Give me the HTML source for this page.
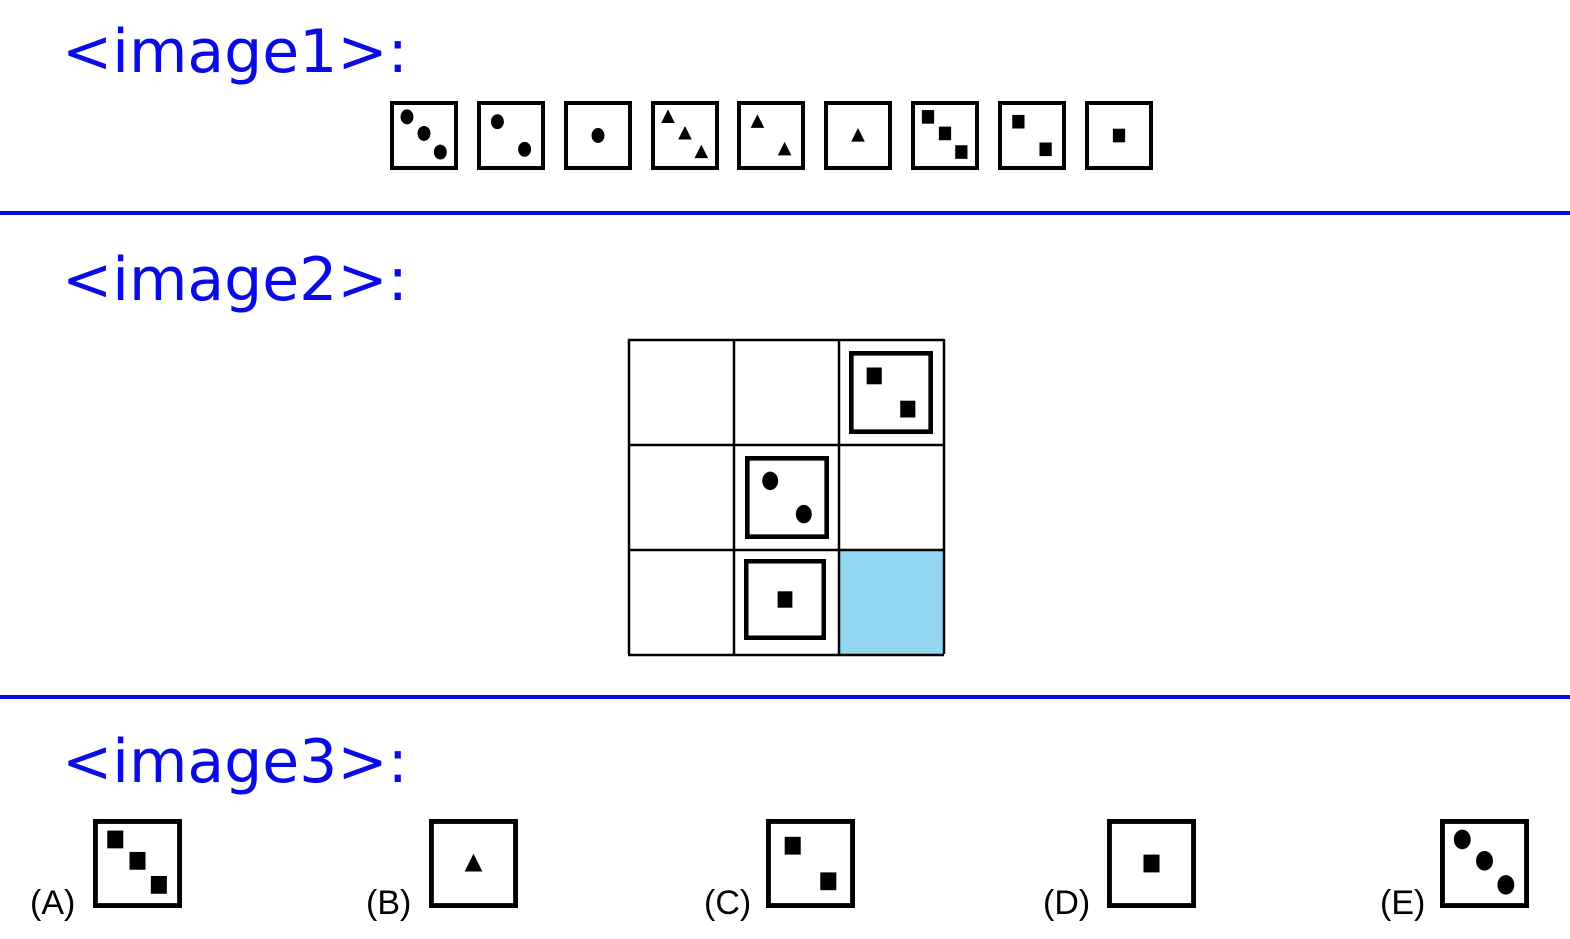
<!DOCTYPE html>
<html><head><meta charset="utf-8"><style>
html,body{margin:0;padding:0;background:#fff;}
svg{display:block}
.h{font-family:"DejaVu Sans","Liberation Sans",sans-serif;font-size:60px;fill:#0a0ae6}
.l{font-family:"Liberation Sans",sans-serif;font-size:34px;fill:#000}
</style></head><body>
<svg id="s" width="1570" height="939" viewBox="0 0 1570 939" xmlns="http://www.w3.org/2000/svg">
<text class="h" x="62" y="72">&lt;image1&gt;:</text>
<rect x="0" y="211" width="1570" height="4" fill="#0a0ae6"/>
<text class="h" x="62" y="300">&lt;image2&gt;:</text>
<rect x="0" y="695" width="1570" height="4" fill="#0a0ae6"/>
<text class="h" x="62" y="782">&lt;image3&gt;:</text>
<g id="grid">
<rect x="839" y="549" width="105" height="105" fill="#93d6f2"/>
</g>
<g id="dice"></g>
<text class="l" x="30" y="914">(A)</text>
<text class="l" x="366" y="914">(B)</text>
<text class="l" x="704" y="914">(C)</text>
<text class="l" x="1043" y="914">(D)</text>
<text class="l" x="1380" y="914">(E)</text>
</svg>
<script>
const NS="http://www.w3.org/2000/svg";
const g=document.getElementById('dice'),grid=document.getElementById('grid');
function mk(p,t,a){const e=document.createElementNS(NS,t);for(const k in a)e.setAttribute(k,a[k]);p.appendChild(e);return e;}
const pos={1:[[.5,.5]],2:[[.3,.3],[.7,.7]],3:[[.25,.23],[.5,.47],[.74,.74]]};
function die(x,y,w,h,shape,n,name){
  const gg=mk(g,'g',{});
  
  
  const sw=Math.max(4,w*0.055);
  mk(gg,'rect',{x:x+sw/2,y:y+sw/2,width:w-sw,height:h-sw,fill:'#fff',stroke:'#000','stroke-width':sw});
  const r=w*0.1;
  pos[n].forEach(([fx,fy])=>{
    const cx=x+fx*w,cy=y+fy*h;
    if(shape==='c')mk(gg,'ellipse',{cx:cx,cy:cy,rx:r*0.95,ry:r*1.1,fill:'#000'});
    else if(shape==='s')mk(gg,'rect',{x:cx-r*0.9,y:cy-r,width:1.8*r,height:2*r,fill:'#000'});
    else mk(gg,'polygon',{points:`${cx},${cy-r*1.1} ${cx+r},${cy+r*0.9} ${cx-r},${cy+r*0.9}`,fill:'#000'});
  });
}
const topX=[390,477,564,651,737,824,911,998,1085];
const topShape=['c','c','c','t','t','t','s','s','s'];
const topCount=[3,2,1,3,2,1,3,2,1];
topX.forEach((x,i)=>die(x,101,68,69,topShape[i],topCount[i],'sequence-tile-'+(i+1)));
for(let i=0;i<=3;i++){
  mk(grid,'line',{x1:629+i*105,y1:339,x2:629+i*105,y2:654,stroke:'#000','stroke-width':2.5});
  mk(grid,'line',{x1:628,y1:340+i*105,x2:944,y2:340+i*105,stroke:'#000','stroke-width':2.5});
}
die(849,351,84,83,'s',2,'grid-tile-r1c3');
die(745,456,84,83,'c',2,'grid-tile-r2c2');
die(744,559,82,81,'s',1,'grid-tile-r3c2');
const optX=[93,429,766,1107,1440];
const optShape=['s','t','s','s','c'];
const optCount=[3,1,2,1,3];
const optName=['a','b','c','d','e'];
optX.forEach((x,i)=>die(x,819,89,89,optShape[i],optCount[i],'option-'+optName[i]+'-tile'));
</script>
</body></html>
